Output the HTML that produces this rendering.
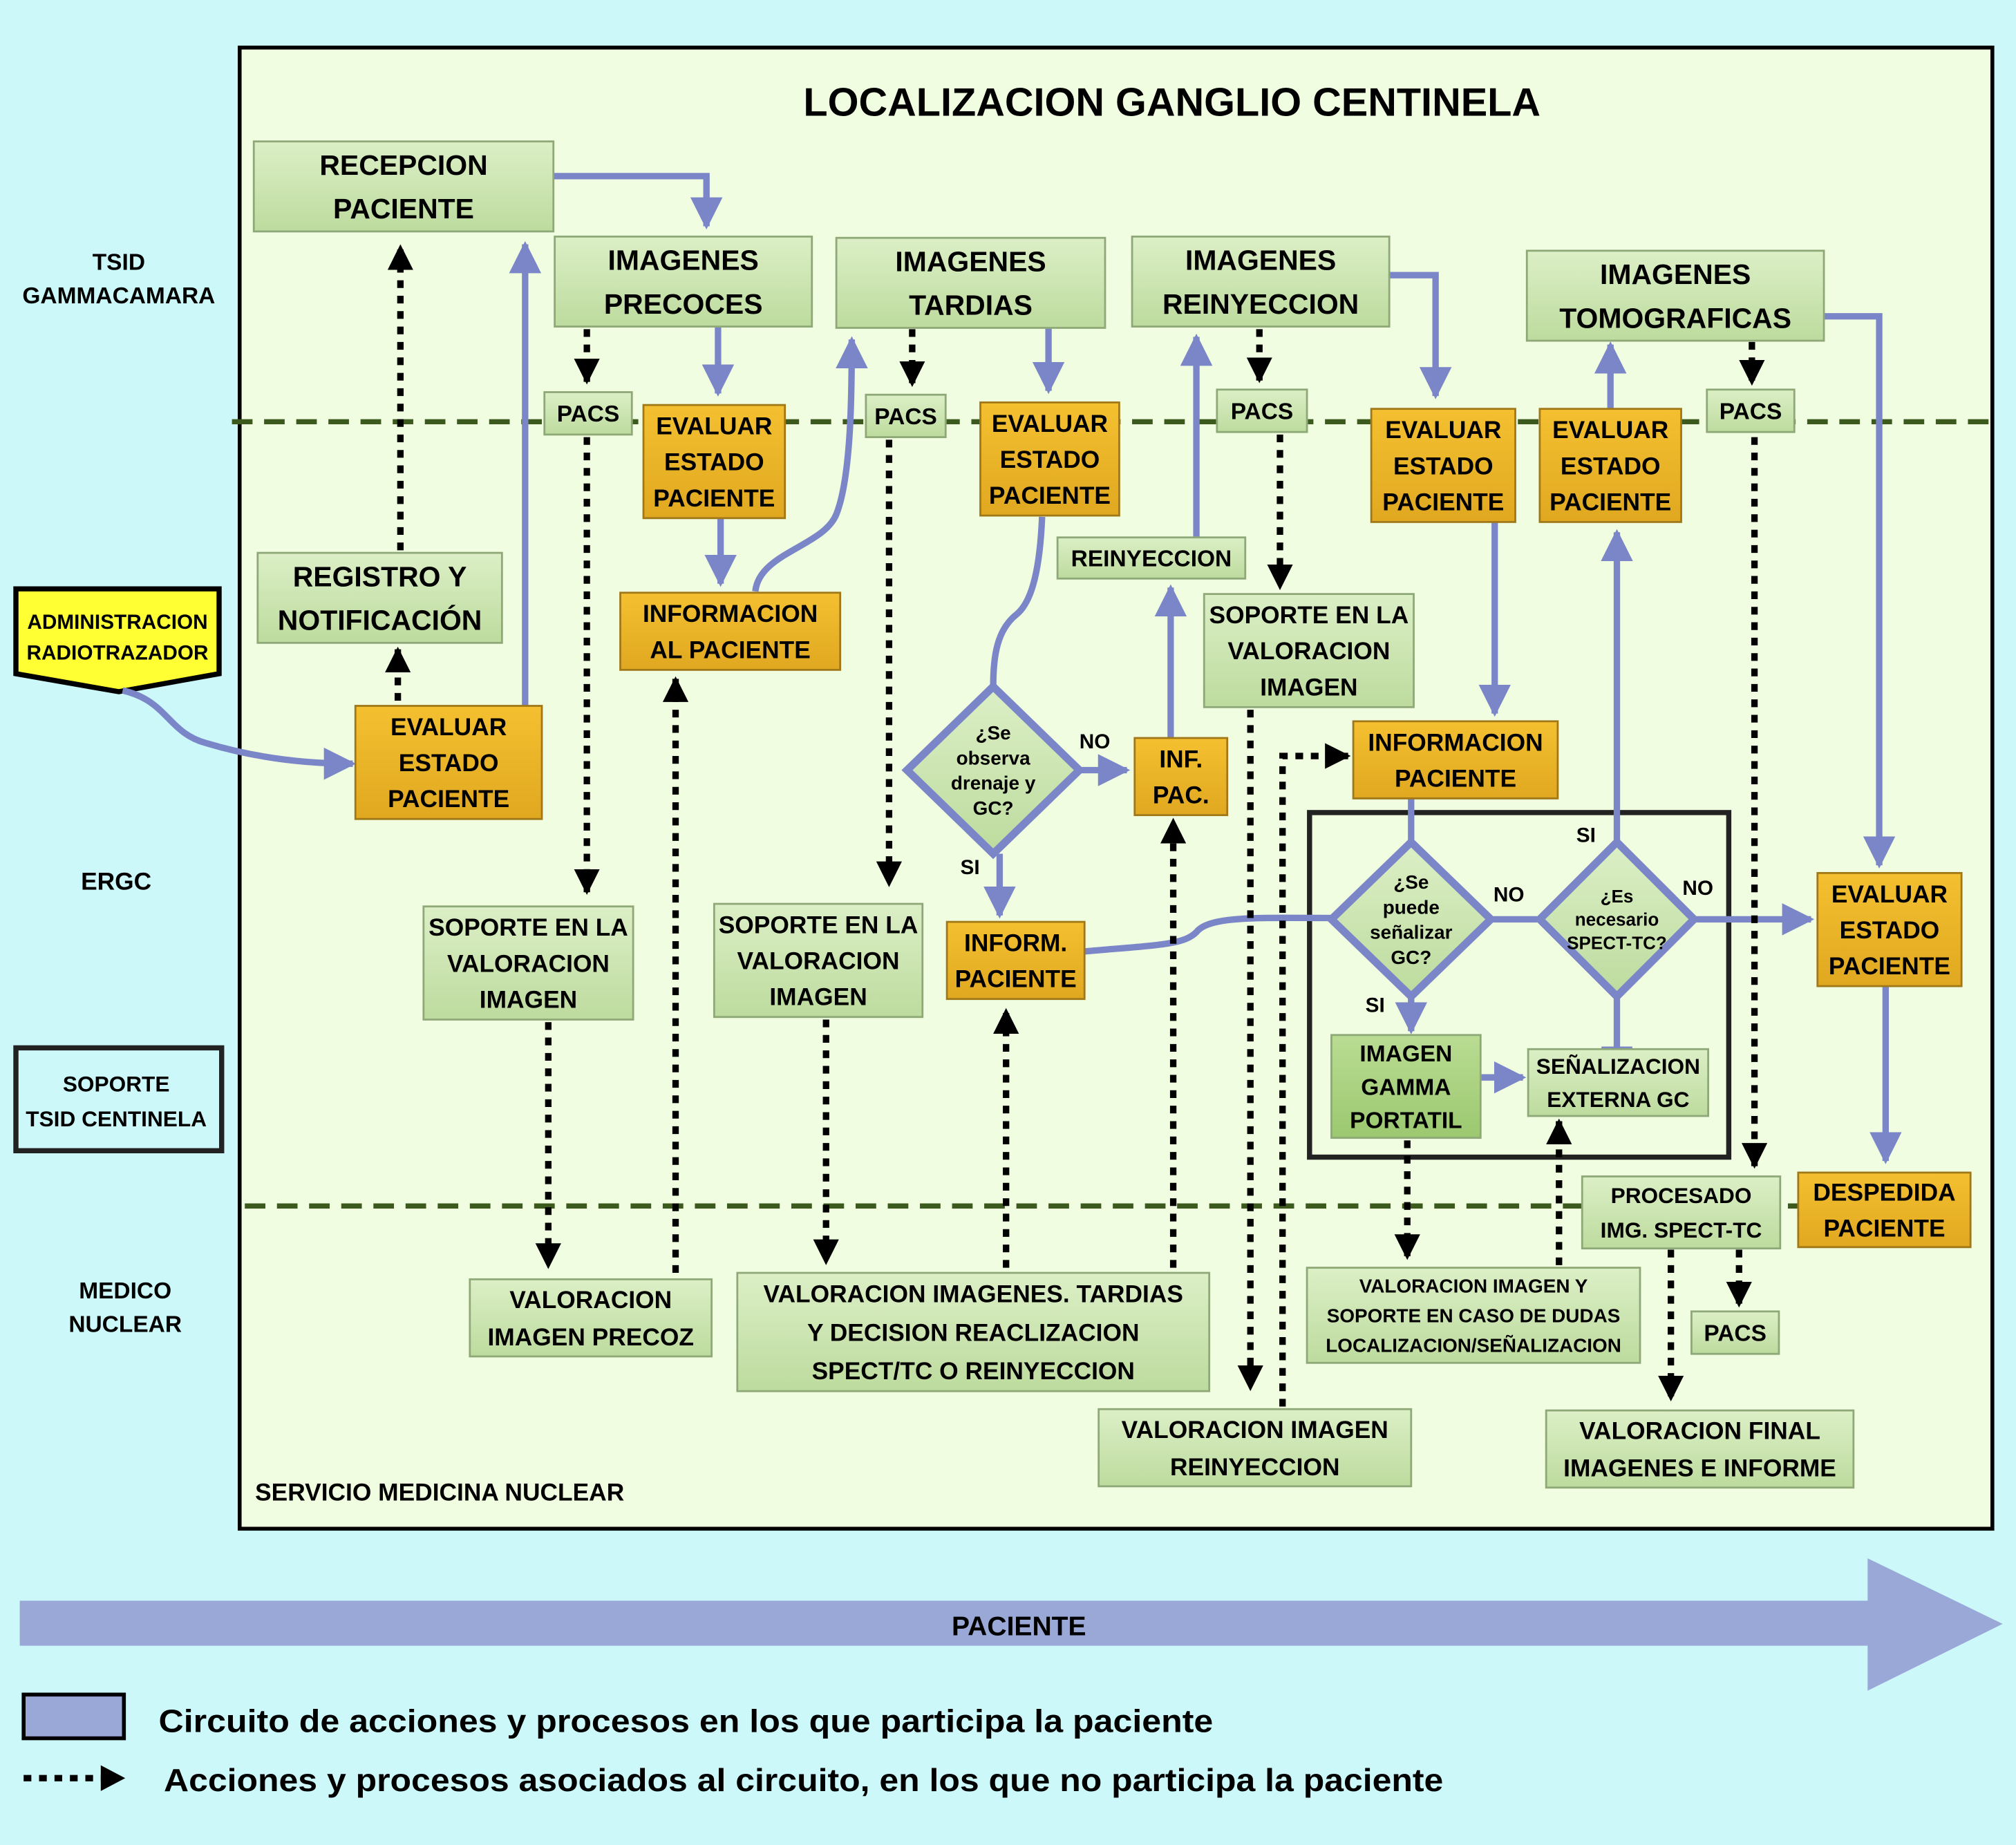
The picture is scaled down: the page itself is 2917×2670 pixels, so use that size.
<!DOCTYPE html>
<html><head><meta charset="utf-8"><style>
html,body{margin:0;padding:0;background:#ccf8fa;}
svg{display:block;}
text{font-family:"Liberation Sans",sans-serif;font-weight:bold;fill:#000;}
</style></head><body>
<svg id="s" width="2917" height="2670" viewBox="0 0 1567 1435" xmlns="http://www.w3.org/2000/svg">
<defs>
<linearGradient id="gg" x1="0" y1="0" x2="0" y2="1"><stop offset="0" stop-color="#dcefc6"/><stop offset="1" stop-color="#bddb9e"/></linearGradient>
<linearGradient id="gd" x1="0" y1="0" x2="0" y2="1"><stop offset="0" stop-color="#b9dc92"/><stop offset="1" stop-color="#9cc870"/></linearGradient>
<linearGradient id="go" x1="0" y1="0" x2="0" y2="1"><stop offset="0" stop-color="#f4c030"/><stop offset="1" stop-color="#e0a820"/></linearGradient>
<marker id="mb" viewBox="0 0 10 10" refX="9" refY="5" markerWidth="5" markerHeight="5" orient="auto"><path d="M0,0L10,5L0,10z" fill="#7b86c8"/></marker>
<marker id="mk" viewBox="0 0 10 10" refX="9" refY="5" markerWidth="4" markerHeight="4" orient="auto"><path d="M0,0L10,5L0,10z" fill="#000"/></marker>
</defs>
<rect x="0" y="0" width="1567" height="1435" fill="#ccf8fa"/>
<rect x="186" y="37" width="1363" height="1152" fill="#f0fde0" stroke="#000" stroke-width="3"/>
<g id="g"></g>
</svg>
<script>
var g=document.getElementById('g'),h='';
function box(x,y,w,hh,lines,fill,fs,lh){fs=fs||22;lh=lh||fs*1.3;
h+='<rect x="'+x+'" y="'+y+'" width="'+w+'" height="'+hh+'" fill="url(#'+fill+')" stroke="'+(fill=='go'?'#a07818':'#8fa878')+'" stroke-width="1.5"/>';
var n=lines.length,cy=y+hh/2-(n-1)*lh/2+fs*0.36;
lines.forEach(function(t,i){h+='<text x="'+(x+w/2)+'" y="'+(cy+i*lh)+'" font-size="'+fs+'" text-anchor="middle">'+t+'</text>';});}
function tx(x,y,t,fs,a,tl){h+='<text x="'+x+'" y="'+y+'" font-size="'+fs+'" text-anchor="'+(a||'middle')+'"'+(tl?' textLength="'+tl+'" lengthAdjust="spacingAndGlyphs"':'')+'>'+t+'</text>';}
function bl(d){h+='<path d="'+d+'" fill="none" stroke="#7b86c8" stroke-width="5" marker-end="url(#mb)"/>';}
function bn(d){h+='<path d="'+d+'" fill="none" stroke="#7b86c8" stroke-width="5"/>';}
function dk(d){h+='<path d="'+d+'" fill="none" stroke="#000" stroke-width="5" stroke-dasharray="6 6" marker-end="url(#mk)"/>';}
function dia(cx,cy,rw,rh,lines,fs){h+='<path d="M'+cx+','+(cy-rh)+'L'+(cx+rw)+','+cy+'L'+cx+','+(cy+rh)+'L'+(cx-rw)+','+cy+'z" fill="url(#gg)" stroke="#7b86c8" stroke-width="6"/>';
var n=lines.length,lh=fs*1.3,y0=cy-(n-1)*lh/2+fs*0.36;lines.forEach(function(t,i){tx(cx,y0+i*lh,t,fs);});}
h+='<path d="M180,328H1549" stroke="#3d5a1e" stroke-width="4" stroke-dasharray="16 9"/>';
h+='<path d="M190,938H1535" stroke="#3d5a1e" stroke-width="4" stroke-dasharray="16 9"/>';
tx(911,90,'LOCALIZACION GANGLIO CENTINELA',31);
tx(92,210,'TSID',18);tx(92,236,'GAMMACAMARA',18);tx(90,692,'ERGC',19);tx(97,1010,'MEDICO',18);tx(97,1036,'NUCLEAR',18);
tx(198,1167,'SERVICIO MEDICINA NUCLEAR',19,'start');
h+='<path d="M12,458H170V524L92,538L12,524z" fill="#ffff33" stroke="#000" stroke-width="4"/>';
tx(91,489,'ADMINISTRACION',16);tx(91,513,'RADIOTRAZADOR',16);
h+='<rect x="12" y="815" width="160" height="80" fill="none" stroke="#222" stroke-width="4"/>';
tx(90,849,'SOPORTE',17);tx(90,876,'TSID CENTINELA',17);
h+='<rect x="1018" y="632" width="326" height="268" fill="none" stroke="#222" stroke-width="4"/>';
bl('M430,137H549V176');bl('M558,254V306');bl('M560,403V454');
bl('M587,460C590,430 640,425 650,400C662,370 662,300 662,264');
bl('M815,254V304');
bn('M810,402C808,450 800,470 790,478C775,490 772,510 772,534');
bl('M839,599H876');bl('M777,664V712');bl('M910,574V457');bl('M930,418V262');
bl('M1080,214H1116V308');bl('M1162,406V555');bn('M1097,621V655');
bn('M843,740C900,735 920,735 930,725C940,712 980,714 1035,714');
bn('M1159,715H1195');bl('M1097,775V802');bl('M1257,655V414');bl('M1252,318V268');
bl('M1319,715H1408');bn('M1257,775V816');h+='<path d="M1245,816H1269" stroke="#7b86c8" stroke-width="4"/>';
bl('M1151,838H1184');bl('M1418,246H1461V673');bl('M1466,767V903');
bl('M95,537C130,545 130,570 160,578C200,590 240,594 274,594');
bl('M408,549V190');
dk('M311,428V192');dk('M309,545V505');dk('M456,256V297');dk('M456,340V694');dk('M426,795V985');
dk('M525,990V528');dk('M709,256V299');dk('M691,342V688');dk('M642,793V982');dk('M782,986V786');
dk('M912,986V638');dk('M979,256V296');dk('M995,338V457');dk('M972,552V1080');
dk('M997,1094V588H1048');dk('M1362,266V298');dk('M1364,340V907');dk('M1094,887V978');
dk('M1212,984V872');dk('M1352,972V1015');dk('M1299,972V1088');
box(197,110,233,70,['RECEPCION','PACIENTE'],'gg',22,34);
box(431,184,200,70,['IMAGENES','PRECOCES'],'gg',22,34);
box(650,185,209,70,['IMAGENES','TARDIAS'],'gg',22,34);
box(880,184,200,70,['IMAGENES','REINYECCION'],'gg',22,34);
box(1187,195,231,70,['IMAGENES','TOMOGRAFICAS'],'gg',22,34);
[[423,305,68],[673,307,62],[946,303,70],[1327,303,68],[1315,1020,68]].forEach(function(p){box(p[0],p[1],p[2],33,['PACS'],'gg',18);});
[[500,315,110],[762,313,108],[1066,318,112],[1197,318,110],[276,549,145],[1413,679,112]].forEach(function(p){box(p[0],p[1],p[2],88,['EVALUAR','ESTADO','PACIENTE'],'go',19,28);});
box(200,430,190,70,['REGISTRO Y','NOTIFICACIÓN'],'gg',22,34);
box(482,461,171,60,['INFORMACION','AL PACIENTE'],'go',19,28);
box(822,418,146,32,['REINYECCION'],'gg',18);
box(936,462,163,88,['SOPORTE EN LA','VALORACION','IMAGEN'],'gg',19,28);
box(329,705,163,88,['SOPORTE EN LA','VALORACION','IMAGEN'],'gg',19,28);
box(555,703,162,88,['SOPORTE EN LA','VALORACION','IMAGEN'],'gg',19,28);
box(1052,561,159,60,['INFORMACION','PACIENTE'],'go',19,28);
box(882,574,72,60,['INF.','PAC.'],'go',19,28);
box(736,717,107,60,['INFORM.','PACIENTE'],'go',19,28);
dia(772,599,67,65,['¿Se','observa','drenaje y','GC?'],15);
dia(1097,715,62,60,['¿Se','puede','señalizar','GC?'],15);
dia(1257,715,60,60,['¿Es','necesario','SPECT-TC?'],14);
tx(851,582,'NO',16);tx(754,680,'SI',16);tx(1173,701,'NO',16);tx(1069,787,'SI',16);tx(1233,655,'SI',16);tx(1320,696,'NO',16);
box(1035,805,116,80,['IMAGEN','GAMMA','PORTATIL'],'gd',18,26);
box(1188,816,140,52,['SEÑALIZACION','EXTERNA GC'],'gg',17,26);
box(1230,915,154,56,['PROCESADO','IMG. SPECT-TC'],'gg',17,27);
box(1398,912,134,58,['DESPEDIDA','PACIENTE'],'go',19,28);
box(365,995,188,60,['VALORACION','IMAGEN PRECOZ'],'gg',19,29);
box(573,990,367,92,['VALORACION IMAGENES. TARDIAS','Y DECISION REACLIZACION','SPECT/TC O REINYECCION'],'gg',19,30);
box(854,1096,243,60,['VALORACION IMAGEN','REINYECCION'],'gg',19,29);
box(1016,986,259,74,['VALORACION IMAGEN Y','SOPORTE EN CASO DE DUDAS','LOCALIZACION/SEÑALIZACION'],'gg',15,23);
box(1202,1097,239,60,['VALORACION FINAL','IMAGENES E INFORME'],'gg',19,29);
h+='<path d="M15,1245H1452V1212L1557,1263L1452,1315V1280H15z" fill="#9aa8d8"/>';
tx(792,1272,'PACIENTE',21);
h+='<rect x="18" y="1318" width="78" height="34" fill="#9aa8d8" stroke="#000" stroke-width="3"/>';
tx(123,1347,'Circuito de acciones y procesos en los que participa la paciente',25,'start',820);
h+='<path d="M18,1383H80" stroke="#000" stroke-width="5" stroke-dasharray="6 6"/><path d="M78,1373L97,1383L78,1393z"/>';
tx(127,1393,'Acciones y procesos asociados al circuito, en los que no participa la paciente',25,'start',995);
g.innerHTML=h;
</script>
</body></html>
